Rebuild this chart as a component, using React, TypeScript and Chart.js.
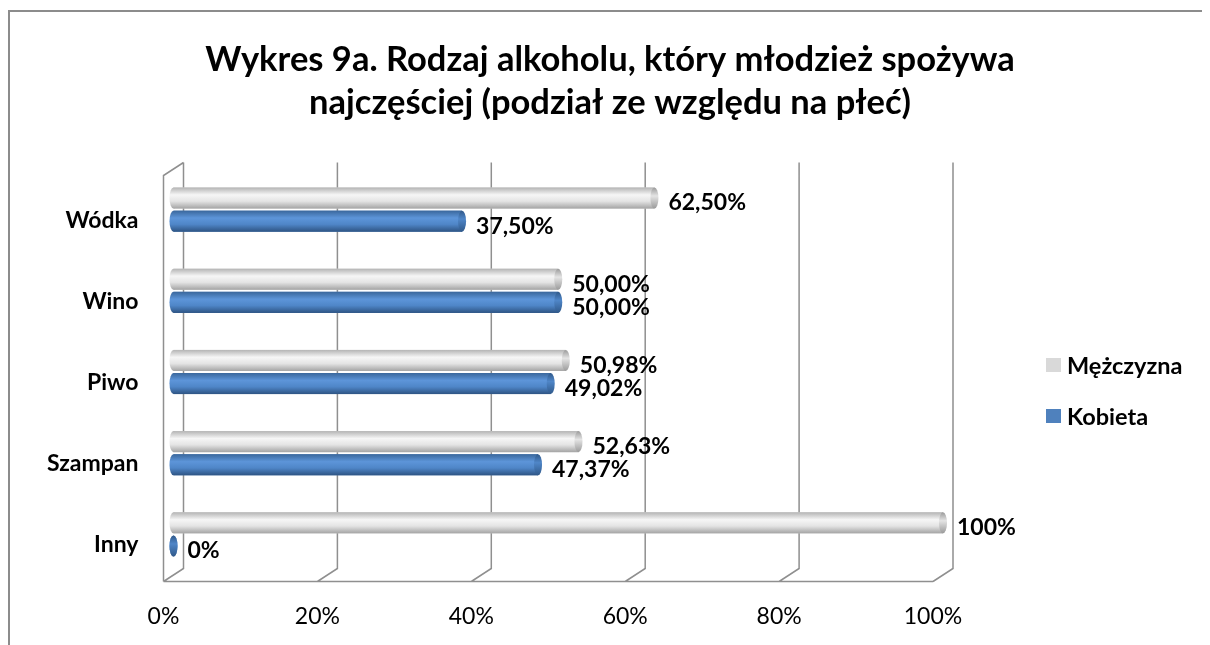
import React, { useEffect, useRef } from "react";
import { Chart, registerables } from "chart.js";

Chart.register(...registerables);

const categories = ["Wódka", "Wino", "Piwo", "Szampan", "Inny"];
const seriesNames = ["Mężczyzna", "Kobieta"];
const menValues = [62.5, 50, 50.98, 52.63, 100];
const womenValues = [37.5, 50, 49.02, 47.37, 0];
const xTickValues = [0, 20, 40, 60, 80, 100];
const titleLines = [
  "Wykres 9a. Rodzaj alkoholu, który młodzież spożywa",
  "najczęściej (podział ze względu na płeć)",
];

const FONT = "Lato, 'Open Sans', sans-serif";
const DX = 10;
const DY = 6.5;

const palettes = [
  { base: "#d9d9d9", stops: ["#b4b4b4", "#f6f6f6", "#e4e4e4", "#a4a4a4"], cap: "#9a9a9a", legend: "#d9d9d9" },
  { base: "#4f81bd", stops: ["#3a679c", "#5d95d9", "#4f86c8", "#2e5483"], cap: "#30598a", legend: "#4f81bd" },
];

const fmt = (v: number) =>
  v === 0 || v === 100 ? `${v}%` : v.toFixed(2).replace(".", ",") + "%";

const wallsPlugin = {
  id: "walls3d",
  beforeDatasetsDraw(chart: any) {
    const { ctx, chartArea } = chart;
    const { top, bottom } = chartArea;
    const x = chart.scales.x;
    ctx.save();
    ctx.strokeStyle = "#8f8f8f";
    ctx.lineWidth = 1.5;
    ctx.beginPath();
    xTickValues.forEach((v) => {
      const px = x.getPixelForValue(v);
      ctx.moveTo(px + DX, top - DY);
      ctx.lineTo(px + DX, bottom - DY);
      ctx.lineTo(px - DX, bottom + DY);
    });
    const x0 = x.getPixelForValue(0);
    const x1 = x.getPixelForValue(100);
    ctx.moveTo(x0 - DX, bottom + DY);
    ctx.lineTo(x1 - DX, bottom + DY);
    ctx.moveTo(x0 - DX, bottom + DY);
    ctx.lineTo(x0 - DX, top + DY);
    ctx.lineTo(x0 + DX, top - DY);
    ctx.stroke();
    ctx.restore();
  },
};

const cylinderPlugin = {
  id: "cylinders",
  afterDatasetsDraw(chart: any) {
    const { ctx } = chart;
    ctx.save();
    chart.data.datasets.forEach((ds: any, di: number) => {
      const meta = chart.getDatasetMeta(di);
      const pal = palettes[di];
      meta.data.forEach((el: any, i: number) => {
        const { x, y, base, height } = el.getProps(["x", "y", "base", "height"], true);
        const h = height;
        const t = y - h / 2;
        const g = ctx.createLinearGradient(0, t, 0, t + h);
        g.addColorStop(0, pal.stops[0]);
        g.addColorStop(0.35, pal.stops[1]);
        g.addColorStop(0.65, pal.stops[2]);
        g.addColorStop(1, pal.stops[3]);
        const rx = 4;
        ctx.fillStyle = g;
        ctx.beginPath();
        ctx.ellipse(base, y, rx, h / 2, 0, 0, Math.PI * 2);
        ctx.fill();
        if (x > base) {
          ctx.fillRect(base, t, x - base, h);
        }
        const cg = ctx.createLinearGradient(0, t, 0, t + h);
        cg.addColorStop(0, pal.cap);
        cg.addColorStop(0.4, pal.stops[2]);
        cg.addColorStop(1, pal.cap);
        ctx.fillStyle = cg;
        ctx.beginPath();
        ctx.ellipse(x, y, rx, h / 2, 0, 0, Math.PI * 2);
        ctx.fill();

        ctx.fillStyle = "#000";
        ctx.font = `bold 23px ${FONT}`;
        ctx.textAlign = "left";
        ctx.textBaseline = "middle";
        ctx.fillText(fmt(ds.data[i]), x + 14, y + 5);
      });
    });
    ctx.restore();
  },
};

const legendPlugin = {
  id: "sideLegend",
  afterDraw(chart: any) {
    const { ctx } = chart;
    ctx.save();
    const lx = 1036;
    const ys = [353, 404];
    chart.data.datasets.forEach((ds: any, di: number) => {
      const cy = ys[di];
      ctx.fillStyle = palettes[di].legend;
      ctx.fillRect(lx, cy - 7, 15, 14);
      ctx.fillStyle = "#000";
      ctx.font = `bold 23.5px ${FONT}`;
      ctx.textAlign = "left";
      ctx.textBaseline = "middle";
      ctx.fillText(ds.label, lx + 21, cy + 1);
    });
    ctx.restore();
  },
};

export default function App() {
  const ref = useRef<HTMLCanvasElement | null>(null);

  useEffect(() => {
    if (!ref.current) return;
    const chart = new Chart(ref.current, {
      type: "bar",
      data: {
        labels: categories,
        datasets: [
          {
            label: seriesNames[0],
            data: menValues,
            backgroundColor: palettes[0].base,
            categoryPercentage: 0.57,
            barPercentage: 0.91,
          },
          {
            label: seriesNames[1],
            data: womenValues,
            backgroundColor: palettes[1].base,
            categoryPercentage: 0.57,
            barPercentage: 0.91,
          },
        ],
      },
      options: {
        indexAxis: "y",
        responsive: false,
        animation: false,
        layout: { padding: 0 },
        plugins: {
          legend: { display: false },
          tooltip: { enabled: false },
          title: {
            display: true,
            text: titleLines,
            color: "#000",
            font: { family: FONT, size: 34.5, weight: "bold", lineHeight: 43 / 34.5 },
            padding: { top: 26.5, bottom: 44.5 },
          },
        },
        scales: {
          x: {
            min: 0,
            max: 100,
            grid: { display: false, drawTicks: false },
            border: { display: false },
            afterFit: (s: any) => {
              s.height = 70;
            },
            afterBuildTicks: (s: any) => {
              s.ticks = xTickValues.map((v) => ({ value: v }));
            },
            ticks: {
              color: "#000",
              font: { family: FONT, size: 23 },
              padding: 28,
              labelOffset: -DX,
              maxRotation: 0,
              callback: (v: any) => `${v}%`,
            },
          },
          y: {
            grid: { display: false, drawTicks: false },
            border: { display: false },
            afterFit: (s: any) => {
              s.width = 163.5;
            },
            ticks: {
              color: "#000",
              font: { family: FONT, size: 23, weight: "bold" },
              padding: 35,
              labelOffset: 10.5,
            },
          },
          legendSpace: {
            type: "linear",
            position: "right",
            display: true,
            grid: { display: false, drawTicks: false },
            border: { display: false },
            ticks: { display: false },
            afterFit: (s: any) => {
              s.width = 267;
            },
          },
        },
      },
      plugins: [wallsPlugin, cylinderPlugin, legendPlugin],
    } as any);
    return () => chart.destroy();
  }, []);

  return (
    <div
      style={{
        marginTop: 2,
        borderTop: "2px solid #8c8c8c",
        borderLeft: "2px solid #8c8c8c",
        width: 1210,
        height: 633,
        overflow: "hidden",
      }}
    >
      <canvas ref={ref} width={1200} height={633} style={{ display: "block" }} />
    </div>
  );
}
